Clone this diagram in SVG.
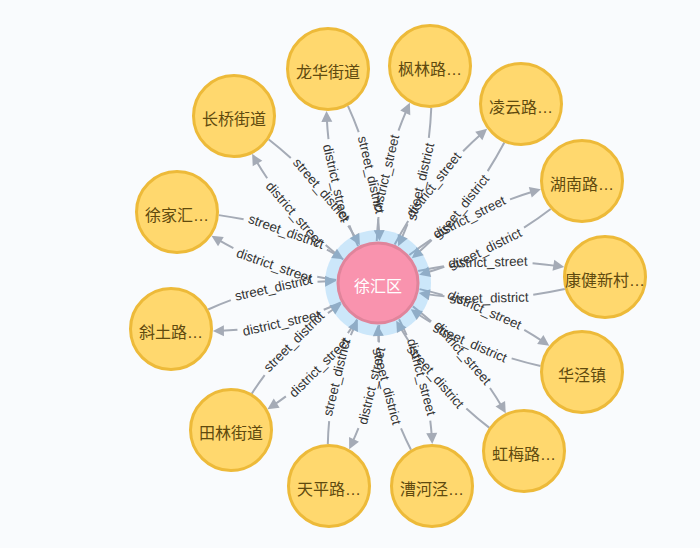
<svg xmlns="http://www.w3.org/2000/svg" width="700" height="548" viewBox="0 0 700 548">
<style>
.e{fill:none;stroke:#A5ABB6;stroke-width:2;marker-end:url(#arr)}
.el{font-family:"Liberation Sans",Arial,sans-serif;font-size:13.3px;fill:#333;text-anchor:middle;dominant-baseline:central}
.n circle{fill:#FFD86E;stroke:#EDBA39;stroke-width:3}
.n text{font-family:"Liberation Sans","Noto Sans CJK SC",sans-serif;font-size:16px;fill:#604A0E;text-anchor:middle}
</style>
<defs>
<marker id="arr" viewBox="-12 -6 13 12" refX="0" refY="0" markerWidth="13" markerHeight="12" markerUnits="userSpaceOnUse" orient="auto">
<path d="M0,0 L-11,-5.5 L-11,5.5 Z" fill="#A5ABB6"/>
</marker>
</defs>
<rect width="700" height="548" fill="#F9FBFD"/>
<g id="connectors">
<g id="e-longhua" transform="translate(378 283) rotate(-103.15)">
<path class="e" d="M40.5,-11 Q109.9,-25 179.3,-11" stroke-dasharray="22.4 89 20.4 100"/>
<path class="e" d="M179.3,11 Q109.9,25 40.5,11" stroke-dasharray="28.4 89 14.4 100"/>
<text class="el" x="106.9" y="-18" transform="rotate(180 106.9 -18)">district_street</text>
<text class="el" x="106.9" y="18" transform="rotate(180 106.9 18)">street_district</text>
</g>
<g id="e-fenglin" transform="translate(378 283) rotate(-76.52)">
<path class="e" d="M40.5,-11 Q111.55,-25 182.6,-11" stroke-dasharray="24.05 89 22.05 100"/>
<path class="e" d="M182.6,11 Q111.55,25 40.5,11" stroke-dasharray="30.05 89 16.05 100"/>
<text class="el" x="108.55" y="-18">district_street</text>
<text class="el" x="108.55" y="18">street_district</text>
</g>
<g id="e-lingyun" transform="translate(378 283) rotate(-51.37)">
<path class="e" d="M40.5,-11 Q114.55,-25 188.6,-11" stroke-dasharray="27.05 89 25.05 100"/>
<path class="e" d="M188.6,11 Q114.55,25 40.5,11" stroke-dasharray="33.05 89 19.05 100"/>
<text class="el" x="111.55" y="-18">district_street</text>
<text class="el" x="111.55" y="18">street_district</text>
</g>
<g id="e-hunan" transform="translate(378 283) rotate(-26.57)">
<path class="e" d="M40.5,-11 Q114.05,-25 187.6,-11" stroke-dasharray="26.55 89 24.55 100"/>
<path class="e" d="M187.6,11 Q114.05,25 40.5,11" stroke-dasharray="32.55 89 18.55 100"/>
<text class="el" x="111.05" y="-18">district_street</text>
<text class="el" x="111.05" y="18">street_district</text>
</g>
<g id="e-kangjian" transform="translate(378 283) rotate(-1.51)">
<path class="e" d="M40.5,-11 Q113.55,-25 186.6,-11" stroke-dasharray="26.05 89 24.05 100"/>
<path class="e" d="M186.6,11 Q113.55,25 40.5,11" stroke-dasharray="32.05 89 18.05 100"/>
<text class="el" x="110.55" y="-18">district_street</text>
<text class="el" x="110.55" y="18">street_district</text>
</g>
<g id="e-huajing" transform="translate(378 283) rotate(23.57)">
<path class="e" d="M40.5,-11 Q111.3,-25 182.1,-11" stroke-dasharray="23.8 89 21.8 100"/>
<path class="e" d="M182.1,11 Q111.3,25 40.5,11" stroke-dasharray="29.8 89 15.8 100"/>
<text class="el" x="108.3" y="-18">district_street</text>
<text class="el" x="108.3" y="18">street_district</text>
</g>
<g id="e-hongmei" transform="translate(378 283) rotate(49)">
<path class="e" d="M40.5,-11 Q111.3,-25 182.1,-11" stroke-dasharray="23.8 89 21.8 100"/>
<path class="e" d="M182.1,11 Q111.3,25 40.5,11" stroke-dasharray="29.8 89 15.8 100"/>
<text class="el" x="108.3" y="-18">district_street</text>
<text class="el" x="108.3" y="18">street_district</text>
</g>
<g id="e-caohejing" transform="translate(378 283) rotate(75.1)">
<path class="e" d="M40.5,-11 Q105.05,-25 169.6,-11" stroke-dasharray="17.55 89 15.55 100"/>
<path class="e" d="M169.6,11 Q105.05,25 40.5,11" stroke-dasharray="23.55 89 9.55 100"/>
<text class="el" x="102.05" y="-18">district_street</text>
<text class="el" x="102.05" y="18">street_district</text>
</g>
<g id="e-tianping" transform="translate(378 283) rotate(103.57)">
<path class="e" d="M40.5,-11 Q104.4,-25 168.3,-11" stroke-dasharray="16.9 89 14.9 100"/>
<path class="e" d="M168.3,11 Q104.4,25 40.5,11" stroke-dasharray="22.9 89 8.9 100"/>
<text class="el" x="101.4" y="-18" transform="rotate(180 101.4 -18)">district_street</text>
<text class="el" x="101.4" y="18" transform="rotate(180 101.4 18)">street_district</text>
</g>
<g id="e-tianlin" transform="translate(378 283) rotate(135)">
<path class="e" d="M40.5,-11 Q103.95,-25 167.4,-11" stroke-dasharray="16.45 89 14.45 100"/>
<path class="e" d="M167.4,11 Q103.95,25 40.5,11" stroke-dasharray="22.45 89 8.45 100"/>
<text class="el" x="100.95" y="-18" transform="rotate(180 100.95 -18)">district_street</text>
<text class="el" x="100.95" y="18" transform="rotate(180 100.95 18)">street_district</text>
</g>
<g id="e-xietu" transform="translate(378 283) rotate(167.47)">
<path class="e" d="M40.5,-11 Q106.03,-25 171.55,-11" stroke-dasharray="18.5 89 16.5 100"/>
<path class="e" d="M171.55,11 Q106.03,25 40.5,11" stroke-dasharray="24.5 89 10.5 100"/>
<text class="el" x="103.03" y="-18" transform="rotate(180 103.03 -18)">district_street</text>
<text class="el" x="103.03" y="18" transform="rotate(180 103.03 18)">street_district</text>
</g>
<g id="e-xujiahui" transform="translate(378 283) rotate(-160.55)">
<path class="e" d="M40.5,-11 Q106.6,-25 172.7,-11" stroke-dasharray="19.1 89 17.1 100"/>
<path class="e" d="M172.7,11 Q106.6,25 40.5,11" stroke-dasharray="25.1 89 11.1 100"/>
<text class="el" x="103.6" y="-18" transform="rotate(180 103.6 -18)">district_street</text>
<text class="el" x="103.6" y="18" transform="rotate(180 103.6 18)">street_district</text>
</g>
<g id="e-changqiao" transform="translate(378 283) rotate(-130.77)">
<path class="e" d="M40.5,-11 Q110.25,-25 180,-11" stroke-dasharray="22.75 89 20.75 100"/>
<path class="e" d="M180,11 Q110.25,25 40.5,11" stroke-dasharray="28.75 89 14.75 100"/>
<text class="el" x="107.25" y="-18" transform="rotate(180 107.25 -18)">district_street</text>
<text class="el" x="107.25" y="18" transform="rotate(180 107.25 18)">street_district</text>
</g>
</g>
<g id="n-xuhui">
<circle cx="378" cy="283" r="53" fill="#5AB4F5" fill-opacity="0.28"/>
<circle cx="378" cy="283" r="40" fill="#F993AE" stroke="#E0849B" stroke-width="3"/>
<text x="378" y="292" font-family="'Liberation Sans','Noto Sans CJK SC',sans-serif" font-size="16" fill="#FFFFFF" text-anchor="middle">徐汇区</text>
</g>
<g id="n-longhua" class="n"><circle cx="328" cy="69" r="40.5"/><text x="328" y="78">龙华街道</text></g>
<g id="n-fenglin" class="n"><circle cx="430" cy="66" r="40.5"/><text x="430" y="75">枫林路…</text></g>
<g id="n-lingyun" class="n"><circle cx="521" cy="104" r="40.5"/><text x="521" y="113">凌云路…</text></g>
<g id="n-hunan" class="n"><circle cx="582" cy="181" r="40.5"/><text x="582" y="190">湖南路…</text></g>
<g id="n-kangjian" class="n"><circle cx="605" cy="277" r="40.5"/><text x="605" y="286">康健新村…</text></g>
<g id="n-huajing" class="n"><circle cx="582" cy="372" r="40.5"/><text x="582" y="381">华泾镇</text></g>
<g id="n-hongmei" class="n"><circle cx="524" cy="451" r="40.5"/><text x="524" y="460">虹梅路…</text></g>
<g id="n-caohejing" class="n"><circle cx="432" cy="486" r="40.5"/><text x="432" y="495">漕河泾…</text></g>
<g id="n-tianping" class="n"><circle cx="329" cy="486" r="40.5"/><text x="329" y="495">天平路…</text></g>
<g id="n-tianlin" class="n"><circle cx="231" cy="430" r="40.5"/><text x="231" y="439">田林街道</text></g>
<g id="n-xietu" class="n"><circle cx="171" cy="329" r="40.5"/><text x="171" y="338">斜土路…</text></g>
<g id="n-xujiahui" class="n"><circle cx="177" cy="212" r="40.5"/><text x="177" y="221">徐家汇…</text></g>
<g id="n-changqiao" class="n"><circle cx="234" cy="116" r="40.5"/><text x="234" y="125">长桥街道</text></g>
</svg>
